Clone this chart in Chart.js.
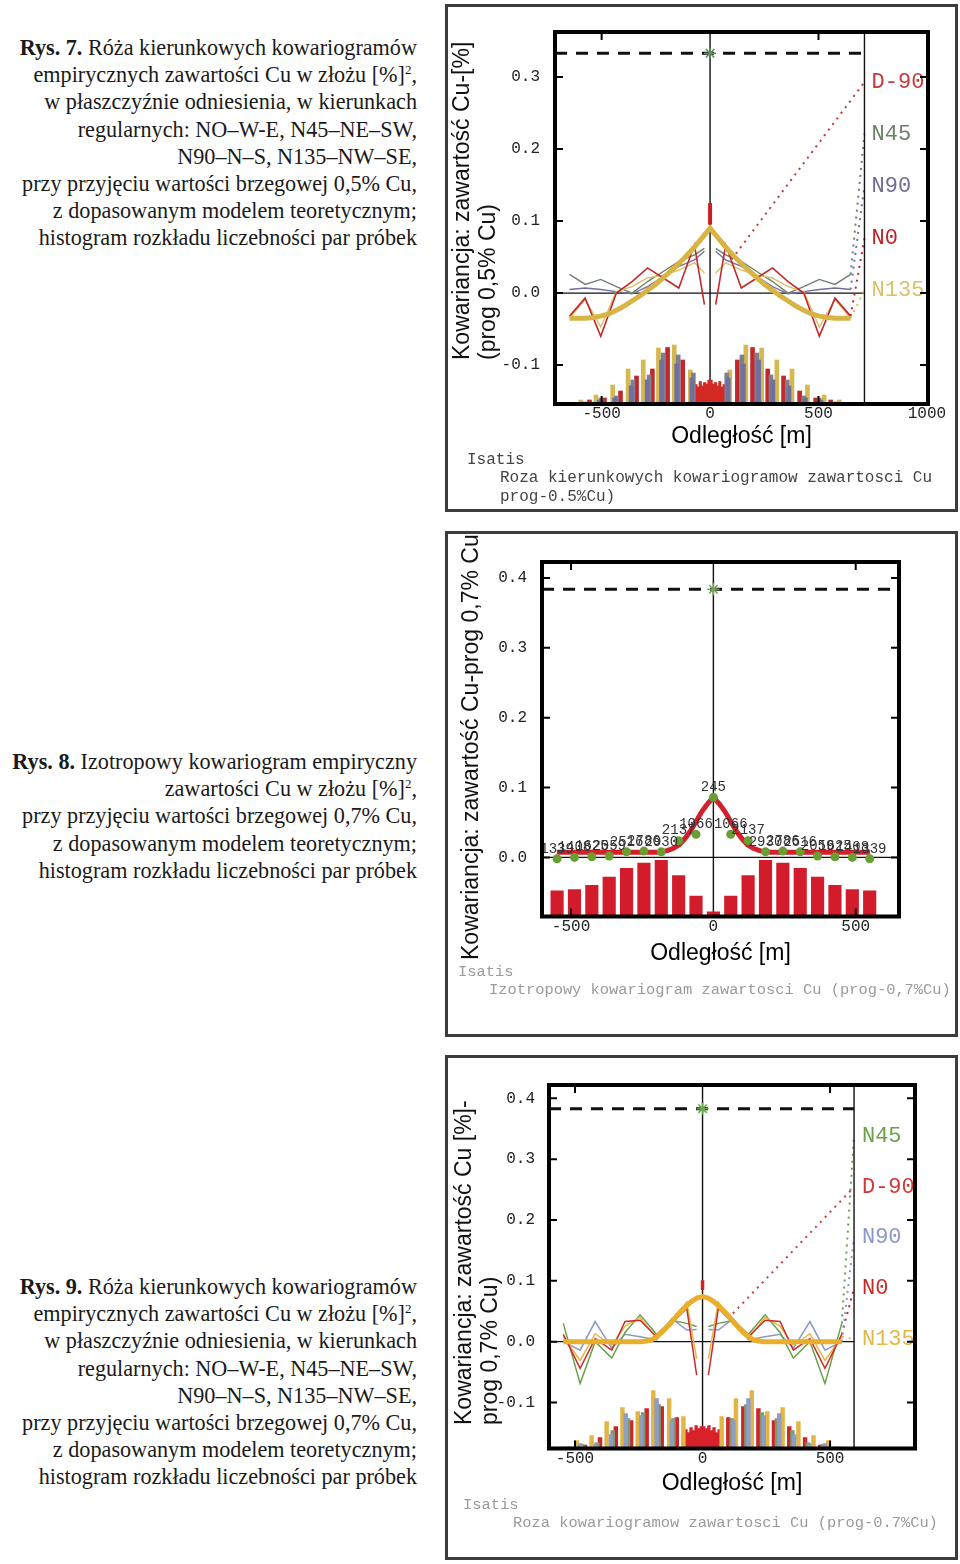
<!DOCTYPE html>
<html><head><meta charset="utf-8">
<script src="https://cdn.jsdelivr.net/npm/chart.js@4.4.0/dist/chart.umd.min.js"></script>
<style>
body{margin:0;width:960px;height:1564px;position:relative;background:#fff;overflow:hidden}
.cap{position:absolute;right:543px;text-align:right;font-family:"Liberation Serif","Times New Roman",serif;font-size:22.2px;line-height:27.2px;color:#1a1a1a;white-space:nowrap}
.cap sup{font-size:13px;line-height:0;vertical-align:8px}
.box{position:absolute;left:445px;width:513px;border:3px solid #3c3c3c;box-sizing:border-box;background:#fff}
canvas{position:absolute}
.yt{position:absolute;transform-origin:0 0;transform:rotate(-90deg);font-family:"Liberation Sans",Arial,sans-serif;font-size:23px;line-height:26px;white-space:nowrap;color:#111}
.ft{position:absolute;font-family:"Liberation Mono","Courier New",monospace;white-space:nowrap;overflow:hidden}
</style></head>
<body>
<div class="cap" style="top:34px"><b>Rys. 7.</b> Róża kierunkowych kowariogramów<br>empirycznych zawartości Cu w złożu [%]<sup>2</sup>,<br>w płaszczyźnie odniesienia, w kierunkach<br>regularnych: NO–W-E, N45–NE–SW,<br>N90–N–S, N135–NW–SE,<br>przy przyjęciu wartości brzegowej 0,5% Cu,<br>z dopasowanym modelem teoretycznym;<br>histogram rozkładu liczebności par próbek</div>
<div class="cap" style="top:748px"><b>Rys. 8.</b> Izotropowy kowariogram empiryczny<br>zawartości Cu w złożu [%]<sup>2</sup>,<br>przy przyjęciu wartości brzegowej 0,7% Cu,<br>z dopasowanym modelem teoretycznym;<br>histogram rozkładu liczebności par próbek</div>
<div class="cap" style="top:1273px"><b>Rys. 9.</b> Róża kierunkowych kowariogramów<br>empirycznych zawartości Cu w złożu [%]<sup>2</sup>,<br>w płaszczyźnie odniesienia, w kierunkach<br>regularnych: NO–W-E, N45–NE–SW,<br>N90–N–S, N135–NW–SE,<br>przy przyjęciu wartości brzegowej 0,7% Cu,<br>z dopasowanym modelem teoretycznym;<br>histogram rozkładu liczebności par próbek</div>

<div class="box" style="top:4px;height:508px"></div>
<div class="box" style="top:531px;height:506px"></div>
<div class="box" style="top:1055px;height:505px"></div>

<canvas id="c1" width="512" height="507" style="left:445px;top:4px"></canvas>
<canvas id="c2" width="512" height="504" style="left:445px;top:532px"></canvas>
<canvas id="c3" width="512" height="505" style="left:445px;top:1055px"></canvas>

<div class="yt" style="left:448px;top:360px">Kowariancja: zawartość Cu-[%]<br>(prog 0,5% Cu)</div>
<div class="yt" style="left:457px;top:960px">Kowariancja: zawartość Cu-prog 0,7% Cu</div>
<div class="yt" style="left:450px;top:1425px">Kowariancja: zawartość Cu [%]-<br>prog 0,7% Cu)</div>

<div class="ft" style="left:467px;top:451px;font-size:16px;line-height:18px;color:#444">Isatis</div>
<div class="ft" style="left:500px;top:469px;font-size:16px;line-height:18px;color:#444;width:455px">Roza kierunkowych kowariogramow zawartosci Cu</div>
<div class="ft" style="left:500px;top:488px;font-size:16px;line-height:18px;color:#444">prog-0.5%Cu)</div>
<div class="ft" style="left:458px;top:963px;font-size:15.4px;line-height:18px;color:#9a9a9a">Isatis</div>
<div class="ft" style="left:489px;top:981px;font-size:15.4px;line-height:18px;color:#9a9a9a;width:466px">Izotropowy kowariogram zawartosci Cu (prog-0,7%Cu)</div>
<div class="ft" style="left:463px;top:1496px;font-size:15.4px;line-height:18px;color:#9a9a9a">Isatis</div>
<div class="ft" style="left:513px;top:1514px;font-size:15.4px;line-height:18px;color:#9a9a9a;width:442px">Roza kowariogramow zawartosci Cu (prog-0.7%Cu)</div>

<script>
// ================= DATA =================
// --- Rys. 7 (prog 0,5% Cu) : directional covariograms (positive lags, symmetric) ---
const c1Lags  = [26, 72, 144, 216, 288, 360, 432, 504, 576, 648];
const c1N0    = [-0.016, 0.067, 0.007, 0.021, 0.035, 0.016, 0.000, -0.060, -0.007, -0.032];
const c1N45   = [0.062, 0.053, 0.044, 0.030, 0.016, 0.000, 0.009, 0.019, 0.012, 0.026];
const c1N90   = [0.058, 0.046, 0.037, 0.023, 0.009, -0.001, 0.002, 0.005, 0.007, 0.005];
const c1N135  = [0.028, 0.042, 0.032, 0.025, 0.021, 0.009, 0.002, -0.047, -0.009, -0.035];
const c1N0Spike = [0.095, 0.125];
const c1ModelLags = [0, 36, 72, 108, 144, 180, 216, 252, 288, 324, 360, 396, 432, 468, 504, 540, 576, 612, 648];
const c1Model     = [0.090, 0.077, 0.064, 0.052, 0.041, 0.031, 0.021, 0.012, 0.004, -0.004, -0.011, -0.018, -0.024, -0.029, -0.032, -0.034, -0.035, -0.035, -0.035];
const c1Sill = 0.333;
const c1Limit = 712;
const c1D90   = [[100, 0.047], [712, 0.293]];
const c1ConnN45  = [[648, 0.026], [712, 0.221]];
const c1ConnN90  = [[648, 0.005], [712, 0.149]];
const c1ConnN0   = [[648, -0.032], [712, 0.076]];
const c1ConnN135 = [[648, -0.035], [712, 0.004]];
// pair-count histograms
const c1HN0Lags   = [126, 196, 266, 339, 413, 487, 556, 630];
const c1HN0       = [440, 565, 350, 280, 130, 60, 40, 15];
const c1HN45Lags  = [77, 147, 216, 281, 356, 432, 503, 576, 650];
const c1HN45      = [310, 490, 510, 290, 240, 80, 60, 20, 10];
const c1HN90Lags  = [84, 154, 224, 290, 364, 440, 511, 584, 658];
const c1HN90      = [260, 400, 440, 240, 180, 60, 40, 15, 8];
const c1HN135Lags = [91, 165, 238, 308, 378, 449, 526, 596, 668];
const c1HN135     = [340, 590, 560, 440, 350, 190, 90, 40, 15];
const c1HCloseLags = [5, 15, 25, 35, 45, 55, 65, 75];
const c1HClose     = [240, 200, 215, 180, 225, 170, 195, 150];
const c1XTicks = [-500, 0, 500, 1000];
const c1XTickLabels = ['-500', '0', '500', '1000'];
const c1YTicks = [-0.1, 0, 0.1, 0.2, 0.3];
const c1YTickLabels = ['-0.1', '0.0', '0.1', '0.2', '0.3'];
const c1DirNames = ['D-90', 'N45', 'N90', 'N0', 'N135'];

// --- Rys. 8 (prog 0,7% Cu) : isotropic covariogram ---
const c2Lags  = [0, 61, 122, 183, 244, 305, 366, 427, 488, 549];
const c2Cov   = [0.086, 0.033, 0.024, 0.008, 0.009, 0.008, 0.002, 0.001, 0.000, -0.002];
const c2Pairs = [245, 1066, 2137, 2930, 2786, 2516, 2059, 1625, 1408, 1339];
const c2ModelLags = [0, 20, 40, 60, 80, 100, 120, 140, 160, 180, 200, 550];
const c2Model     = [0.086, 0.077, 0.066, 0.052, 0.038, 0.027, 0.018, 0.013, 0.010, 0.008, 0.0075, 0.0075];
const c2Sill = 0.384;
const c2XTicks = [-500, 0, 500];
const c2XTickLabels = ['-500', '0', '500'];
const c2YTicks = [0, 0.1, 0.2, 0.3, 0.4];
const c2YTickLabels = ['0.0', '0.1', '0.2', '0.3', '0.4'];

// --- Rys. 9 (prog 0,7% Cu) : directional covariograms ---
const c3Lags  = [23, 62, 121, 180, 245, 304, 356, 421, 480, 546];
const c3N0    = [-0.055, 0.055, 0.030, 0.008, 0.035, 0.033, -0.014, 0.005, -0.044, 0.012];
const c3N45   = [0.025, 0.030, 0.035, 0.012, 0.044, 0.015, -0.027, 0.000, -0.069, 0.030];
const c3N90   = [0.020, 0.019, 0.038, 0.003, 0.008, 0.012, -0.011, 0.033, -0.014, 0.000];
const c3N135  = [-0.028, 0.065, 0.028, 0.005, 0.040, 0.025, -0.006, 0.013, -0.031, 0.008];
const c3N0Spike = [0.085, 0.101];
const c3ModelLags = [0, 20, 40, 60, 80, 100, 120, 140, 160, 180, 200, 220, 240, 546];
const c3Model     = [0.074, 0.072, 0.067, 0.060, 0.052, 0.043, 0.033, 0.024, 0.015, 0.008, 0.003, 0.001, 0.000, 0.000];
const c3Sill = 0.383;
const c3Limit = 594;
const c3D90   = [[100, 0.038], [594, 0.254]];
const c3ConnN45  = [[546, 0.030], [594, 0.338]];
const c3ConnN90  = [[546, 0.000], [594, 0.172]];
const c3ConnN0   = [[546, 0.012], [594, 0.088]];
const c3ConnN135 = [[546, 0.008], [594, 0.004]];
const c3HN0Lags   = [101, 160, 219, 280, 340, 402, 461, 520];
const c3HN0       = [310, 420, 400, 280, 220, 110, 35, 15];
const c3HN45Lags  = [114, 172, 233, 292, 352, 412, 472, 533];
const c3HN45      = [300, 440, 360, 300, 180, 60, 40, 15];
const c3HN90Lags  = [121, 180, 240, 301, 359, 419, 480, 540];
const c3HN90      = [280, 500, 330, 350, 140, 50, 50, 15];
const c3HN135Lags = [75, 131, 193, 254, 314, 376, 435, 493, 555];
const c3HN135     = [320, 500, 580, 370, 410, 270, 130, 80, 15];
const c3HCloseLags = [5, 15, 25, 35, 45, 55, 65, 75];
const c3HClose     = [220, 200, 230, 180, 210, 160, 190, 150];
const c3XTicks = [-500, 0, 500];
const c3XTickLabels = ['-500', '0', '500'];
const c3YTicks = [-0.1, 0, 0.1, 0.2, 0.3, 0.4];
const c3YTickLabels = ['-0.1', '0.0', '0.1', '0.2', '0.3', '0.4'];
const c3DirNames = ['N45', 'D-90', 'N90', 'N0', 'N135'];

// ================= HELPERS =================
const MONO = '"Liberation Mono","DejaVu Sans Mono",monospace';
const SANS = '"Liberation Sans",Arial,sans-serif';
Chart.defaults.font.family = SANS;

function mirrorSplit(lags, vals) {
  const neg = lags.map((l, i) => ({x: -l, y: vals[i]})).reverse();
  const pos = lags.map((l, i) => ({x: l, y: vals[i]}));
  return [...neg, {x: 0, y: null}, ...pos];
}
function mirrorJoin(lags, vals) {
  const neg = [];
  lags.forEach((l, i) => { if (l > 0) neg.push({x: -l, y: vals[i]}); });
  neg.reverse();
  return [...neg, ...lags.map((l, i) => ({x: l, y: vals[i]}))];
}
const pairs = arr => arr.map(p => ({x: p[0], y: p[1]}));
function lineDS(label, data, color, width, extra) {
  return Object.assign({type: 'line', label, data, borderColor: color, backgroundColor: color,
    borderWidth: width, pointRadius: 0, tension: 0, spanGaps: false, fill: false, order: 5}, extra || {});
}
function dotDS(label, data, color) {
  return lineDS(label, data, color, 2, {borderDash: [2, 5], order: 9});
}
function barDS(label, data, color, thick) {
  return {type: 'bar', label, data, backgroundColor: color, borderWidth: 0, barThickness: thick,
    grouped: false, yAxisID: 'yh', order: 20};
}
function scalesCfg(o) {
  return {
    x: {type: 'linear', min: o.xmin, max: o.xmax, offset: false,
      afterFit: s => { s.height = o.xh; },
      afterBuildTicks: s => { s.ticks = o.xticks.map(v => ({value: v})); },
      grid: {display: false, drawTicks: false}, border: {display: false},
      ticks: {padding: o.xpad, color: '#222', autoSkip: false, maxRotation: 0,
        font: {family: MONO, size: 16},
        callback: v => o.xlabels[o.xticks.indexOf(v)]},
      title: {display: true, text: 'Odległość [m]', color: '#000', padding: 0,
        font: {family: SANS, size: 23}}},
    y: {type: 'linear', min: o.ymin, max: o.ymax,
      afterFit: s => { s.width = 60; },
      afterBuildTicks: s => { s.ticks = o.yticks.map(v => ({value: v})); },
      grid: {display: false, drawTicks: false}, border: {display: false},
      ticks: {padding: o.ypad, color: '#222', autoSkip: false,
        font: {family: MONO, size: 16},
        callback: v => o.ylabels[o.yticks.indexOf(v)]}},
    yh: {type: 'linear', display: false, min: 0, max: o.yhmax}
  };
}

const framePlugin = {
  id: 'frame',
  beforeDatasetsDraw(chart, args, o) {
    const {ctx, chartArea: a, scales: {x, y}} = chart;
    ctx.save();
    ctx.strokeStyle = '#111'; ctx.lineWidth = 1.4;
    const x0 = x.getPixelForValue(0), y0 = y.getPixelForValue(0);
    const xe = (o.zeroEnd !== undefined && o.zeroEnd !== null) ? x.getPixelForValue(o.zeroEnd) : a.right;
    ctx.beginPath();
    ctx.moveTo(x0, a.top); ctx.lineTo(x0, a.bottom);
    ctx.moveTo(a.left, y0); ctx.lineTo(xe, y0);
    ctx.stroke();
    ctx.restore();
  },
  afterDraw(chart, args, o) {
    const {ctx, chartArea: a, scales: {x, y}} = chart;
    ctx.save();
    ctx.strokeStyle = '#000'; ctx.lineWidth = 2;
    const L = 8;
    ctx.beginPath();
    y.ticks.forEach(t => { const p = y.getPixelForValue(t.value);
      ctx.moveTo(a.left, p); ctx.lineTo(a.left + L, p); ctx.moveTo(a.right, p); ctx.lineTo(a.right - L, p); });
    x.ticks.forEach(t => { if (t.value === 0) return; const p = x.getPixelForValue(t.value);
      if (p > a.right - 2) return;
      ctx.moveTo(p, a.top); ctx.lineTo(p, a.top + L); ctx.moveTo(p, a.bottom); ctx.lineTo(p, a.bottom - L); });
    ctx.stroke();
    ctx.lineWidth = o.w || 4;
    ctx.strokeRect(a.left, a.top, a.right - a.left, a.bottom - a.top);
    ctx.restore();
  }
};
const dirLabelPlugin = {
  id: 'dirLabels',
  afterDatasetsDraw(chart, args, o) {
    if (!o.items) return;
    const {ctx, chartArea: a, scales: {x, y}} = chart;
    ctx.save();
    ctx.beginPath(); ctx.rect(a.left, a.top, a.right - a.left, a.bottom - a.top); ctx.clip();
    ctx.font = o.size + 'px ' + MONO; ctx.textBaseline = 'middle'; ctx.textAlign = 'left';
    o.items.forEach(it => { ctx.fillStyle = it.color;
      ctx.fillText(it.text, x.getPixelForValue(o.x), y.getPixelForValue(it.y)); });
    ctx.restore();
  }
};
const pairLabelPlugin = {
  id: 'pairLabels',
  afterDatasetsDraw(chart, args, o) {
    if (!o.labels) return;
    const {ctx} = chart;
    const meta = chart.getDatasetMeta(o.datasetIndex);
    ctx.save();
    ctx.font = '14px ' + MONO; ctx.fillStyle = '#333'; ctx.textAlign = 'center'; ctx.textBaseline = 'middle';
    meta.data.forEach((el, i) => { ctx.fillText(o.labels[i], el.x, el.y - 10); });
    ctx.restore();
  }
};
const baseOpts = {responsive: false, animation: false, events: []};

// ================= CHART 1 =================
const c1X = {min: -715, max: 1005}, c1Y = {min: -0.154, max: 0.3625};
new Chart(document.getElementById('c1'), {
  type: 'bar',
  data: {datasets: [
    lineDS('star', [{x: 0, y: c1Sill}], '#5b8f5b', 0, {pointRadius: 6, pointStyle: 'star', pointBorderWidth: 1.5, showLine: false, order: 0}),
    lineDS('Model', mirrorJoin(c1ModelLags, c1Model), '#d8b444', 5, {order: 1}),
    lineDS('N0 spike', c1N0Spike.map(v => ({x: 0, y: v})), '#cc1f24', 4, {order: 2}),
    lineDS('N0', mirrorSplit(c1Lags, c1N0), '#c0282c', 1.6, {order: 3}),
    lineDS('N135', mirrorSplit(c1Lags, c1N135), '#d9c064', 1.4, {order: 4}),
    lineDS('N45', mirrorSplit(c1Lags, c1N45), '#6e7f6e', 1.4, {order: 5}),
    lineDS('N90', mirrorSplit(c1Lags, c1N90), '#7070a0', 1.4, {order: 6}),
    dotDS('D-90', pairs(c1D90), '#b83a3a'),
    dotDS('N45 c', pairs(c1ConnN45), '#6e7f6e'),
    dotDS('N90 c', pairs(c1ConnN90), '#7070a0'),
    dotDS('N0 c', pairs(c1ConnN0), '#c0282c'),
    dotDS('N135 c', pairs(c1ConnN135), '#d9c064'),
    lineDS('sill', [{x: c1X.min, y: c1Sill}, {x: c1Limit, y: c1Sill}], '#111', 3, {borderDash: [12, 9], order: 8}),
    lineDS('limit', [{x: c1Limit, y: c1Y.min}, {x: c1Limit, y: c1Y.max}], '#111', 1.4, {order: 8}),
    barDS('H N90', mirrorJoin(c1HN90Lags, c1HN90), '#6f70a0', 4),
    barDS('H N45', mirrorJoin(c1HN45Lags, c1HN45), '#7d7f92', 4),
    barDS('H N0', mirrorJoin(c1HN0Lags, c1HN0), '#c4262a', 4),
    barDS('H N135', mirrorJoin(c1HN135Lags, c1HN135), '#d6b851', 4),
    barDS('H close', mirrorJoin(c1HCloseLags, c1HClose), '#d42a24', 2.4)
  ]},
  options: Object.assign({}, baseOpts, {
    layout: {padding: {left: 50, right: 29, top: 28, bottom: 61}},
    scales: scalesCfg({xmin: c1X.min, xmax: c1X.max, ymin: c1Y.min, ymax: c1Y.max, xh: 46, xpad: 0, ypad: 15,
      xticks: c1XTicks, xlabels: c1XTickLabels, yticks: c1YTicks, ylabels: c1YTickLabels, yhmax: 3720}),
    plugins: {legend: {display: false}, tooltip: {enabled: false},
      frame: {zeroEnd: c1Limit, w: 4},
      dirLabels: {x: 745, size: 22, items: [
        {text: c1DirNames[0], y: c1D90[1][1], color: '#c43a3a'},
        {text: c1DirNames[1], y: c1ConnN45[1][1], color: '#6a806a'},
        {text: c1DirNames[2], y: c1ConnN90[1][1], color: '#6c6c96'},
        {text: c1DirNames[3], y: c1ConnN0[1][1], color: '#c02024'},
        {text: c1DirNames[4], y: c1ConnN135[1][1], color: '#d8c26a'}]}}
  }),
  plugins: [framePlugin, dirLabelPlugin]
});

// ================= CHART 2 =================
const c2X = {min: -602, max: 652}, c2Y = {min: -0.0846, max: 0.4229};
const c2PairLabels = mirrorJoin(c2Lags, c2Pairs).map(p => String(p.y));
new Chart(document.getElementById('c2'), {
  type: 'bar',
  data: {datasets: [
    lineDS('star', [{x: 0, y: c2Sill}], '#6aa84f', 0, {pointRadius: 6, pointStyle: 'star', pointBorderWidth: 1.5, showLine: false, order: 0}),
    lineDS('Exp', mirrorJoin(c2Lags, c2Cov), '#6a9e32', 0, {showLine: false, pointRadius: 4.5, pointBackgroundColor: '#6a9e32', pointBorderWidth: 0, order: 1}),
    lineDS('Model', mirrorJoin(c2ModelLags, c2Model), '#d4202c', 5, {order: 2}),
    lineDS('sill', [{x: c2X.min, y: c2Sill}, {x: c2X.max, y: c2Sill}], '#111', 3, {borderDash: [12, 9], order: 8}),
    barDS('Pairs', mirrorJoin(c2Lags, c2Pairs), '#d21c2c', 12.5)
  ]},
  options: Object.assign({}, baseOpts, {
    layout: {padding: {left: 37, right: 58, top: 30, bottom: 69}},
    scales: scalesCfg({xmin: c2X.min, xmax: c2X.max, ymin: c2Y.min, ymax: c2Y.max, xh: 50.5, xpad: 1, ypad: 15,
      xticks: c2XTicks, xlabels: c2XTickLabels, yticks: c2YTicks, ylabels: c2YTickLabels, yhmax: 18500}),
    plugins: {legend: {display: false}, tooltip: {enabled: false},
      frame: {w: 4},
      pairLabels: {datasetIndex: 1, labels: c2PairLabels}}
  }),
  plugins: [framePlugin, pairLabelPlugin]
});

// ================= CHART 3 =================
const c3X = {min: -602, max: 833}, c3Y = {min: -0.1757, max: 0.4219};
new Chart(document.getElementById('c3'), {
  type: 'bar',
  data: {datasets: [
    lineDS('star', [{x: 0, y: c3Sill}], '#6aa84f', 0, {pointRadius: 6, pointStyle: 'star', pointBorderWidth: 1.5, showLine: false, order: 0}),
    lineDS('Model', mirrorJoin(c3ModelLags, c3Model), '#e8ae2c', 5, {order: 1}),
    lineDS('N0 spike', c3N0Spike.map(v => ({x: 0, y: v})), '#d42020', 3.5, {order: 2}),
    lineDS('N0', mirrorSplit(c3Lags, c3N0), '#cc2a2a', 1.5, {order: 3}),
    lineDS('N135', mirrorSplit(c3Lags, c3N135), '#e4b84a', 1.5, {order: 4}),
    lineDS('N45', mirrorSplit(c3Lags, c3N45), '#6aa04a', 1.5, {order: 5}),
    lineDS('N90', mirrorSplit(c3Lags, c3N90), '#8898c8', 1.5, {order: 6}),
    dotDS('D-90', pairs(c3D90), '#cc3a3a'),
    dotDS('N45 c', pairs(c3ConnN45), '#6aa04a'),
    dotDS('N90 c', pairs(c3ConnN90), '#8898c8'),
    dotDS('N0 c', pairs(c3ConnN0), '#cc2a2a'),
    dotDS('N135 c', pairs(c3ConnN135), '#e4b84a'),
    lineDS('sill', [{x: c3X.min, y: c3Sill}, {x: c3Limit, y: c3Sill}], '#111', 3, {borderDash: [12, 9], order: 8}),
    lineDS('limit', [{x: c3Limit, y: c3Y.min}, {x: c3Limit, y: c3Y.max}], '#111', 1.4, {order: 8}),
    barDS('H N90', mirrorJoin(c3HN90Lags, c3HN90), '#8f9cc4', 3.8),
    barDS('H N45', mirrorJoin(c3HN45Lags, c3HN45), '#7c9a6c', 3.8),
    barDS('H N0', mirrorJoin(c3HN0Lags, c3HN0), '#d0242c', 3.8),
    barDS('H N135', mirrorJoin(c3HN135Lags, c3HN135), '#e2b644', 3.8),
    barDS('H close', mirrorJoin(c3HCloseLags, c3HClose), '#d8222a', 2.7)
  ]},
  options: Object.assign({}, baseOpts, {
    layout: {padding: {left: 44, right: 42, top: 30, bottom: 63}},
    scales: scalesCfg({xmin: c3X.min, xmax: c3X.max, ymin: c3Y.min, ymax: c3Y.max, xh: 48.5, xpad: 1, ypad: 14,
      xticks: c3XTicks, xlabels: c3XTickLabels, yticks: c3YTicks, ylabels: c3YTickLabels, yhmax: 3635}),
    plugins: {legend: {display: false}, tooltip: {enabled: false},
      frame: {zeroEnd: c3Limit, w: 4},
      dirLabels: {x: 625, size: 22, items: [
        {text: c3DirNames[0], y: c3ConnN45[1][1], color: '#6aa04a'},
        {text: c3DirNames[1], y: c3D90[1][1], color: '#d03838'},
        {text: c3DirNames[2], y: c3ConnN90[1][1], color: '#8a98c8'},
        {text: c3DirNames[3], y: c3ConnN0[1][1], color: '#c82828'},
        {text: c3DirNames[4], y: c3ConnN135[1][1], color: '#e0b848'}]}}
  }),
  plugins: [framePlugin, dirLabelPlugin]
});
</script>
</body></html>
